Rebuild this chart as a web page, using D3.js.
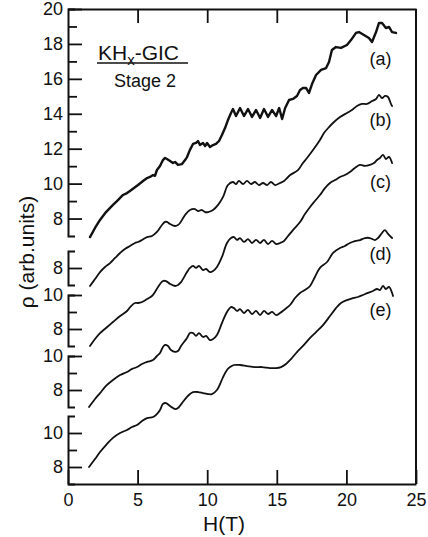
<!DOCTYPE html>
<html><head><meta charset="utf-8">
<script src="https://cdn.jsdelivr.net/npm/d3@7"></script>
<style>
html,body{margin:0;padding:0;background:#fff;}
svg text{font-family:"Liberation Sans",Arial,sans-serif;fill:#111;}
</style></head><body>
<svg id="chart" width="428" height="537"></svg>
<script>
// Magnetoresistance traces of stage-2 KHx-GIC, H in tesla, rho in arbitrary units.
// Each trace is read against its own piece of the broken rho axis.
const seriesNames = ["(a)", "(b)", "(c)", "(d)", "(e)"];

const curveA = [[1.58,6.94],[1.94,7.46],[2.30,7.92],[2.73,8.37],[3.23,8.78],[3.59,9.06],[3.95,9.35],[4.24,9.46],[4.45,9.58],[4.74,9.75],[5.03,9.92],[5.39,10.15],[5.68,10.32],[5.89,10.38],[6.11,10.49],[6.25,10.45],[6.39,10.78],[6.61,11.01],[6.82,11.35],[6.97,11.47],[7.11,11.41],[7.33,11.30],[7.54,11.18],[7.69,11.24],[7.90,11.07],[8.19,11.12],[8.41,11.35],[8.55,11.52],[8.76,11.93],[8.98,12.27],[9.20,12.33],[9.34,12.44],[9.48,12.21],[9.70,12.33],[9.85,12.15],[9.99,12.33],[10.20,12.10],[10.42,12.21],[10.63,12.27],[10.85,12.44],[11.06,12.78],[11.28,13.18],[11.49,13.64],[11.71,14.04],[11.85,14.27],[12.07,13.87],[12.36,14.33],[12.64,13.87],[12.93,14.27],[13.22,13.82],[13.51,14.22],[13.80,13.76],[14.08,14.27],[14.37,13.82],[14.66,14.22],[14.95,13.87],[15.17,14.33],[15.38,13.70],[15.60,14.33],[15.88,14.79],[16.16,14.85],[16.45,15.02],[16.67,15.36],[16.88,15.48],[17.10,15.48],[17.31,15.19],[17.53,15.70],[17.82,16.22],[18.18,16.51],[18.54,16.62],[18.75,16.96],[18.96,17.65],[19.25,17.82],[19.61,17.77],[20.04,17.94],[20.33,18.22],[20.69,18.63],[20.90,18.68],[21.26,18.51],[21.62,18.34],[21.84,18.11],[22.13,18.68],[22.34,19.20],[22.56,19.20],[22.84,18.91],[23.06,18.97],[23.28,18.68],[23.56,18.63]];

const curveB = [[1.58,6.94],[1.94,7.35],[2.30,7.76],[2.66,8.06],[3.02,8.29],[3.38,8.59],[3.74,8.88],[4.09,9.12],[4.45,9.29],[4.81,9.47],[5.03,9.53],[5.32,9.65],[5.68,9.82],[6.03,9.88],[6.39,10.12],[6.75,10.53],[6.97,10.71],[7.11,10.71],[7.33,10.59],[7.69,10.47],[7.90,10.53],[8.05,10.65],[8.41,11.12],[8.76,11.41],[9.12,11.47],[9.34,11.35],[9.63,11.41],[9.85,11.29],[10.06,11.29],[10.42,11.41],[10.78,11.71],[11.14,12.18],[11.49,12.88],[11.85,13.06],[12.07,12.94],[12.28,13.12],[12.57,12.94],[12.86,13.12],[13.15,12.94],[13.43,13.06],[13.72,12.88],[14.01,13.00],[14.30,12.88],[14.58,13.06],[14.87,12.88],[15.23,13.00],[15.52,13.12],[15.96,13.47],[16.52,13.76],[16.88,14.18],[17.17,14.47],[17.60,14.94],[18.10,15.53],[18.39,15.94],[18.75,16.29],[19.11,16.59],[19.54,16.88],[20.04,17.12],[20.40,17.29],[20.76,17.53],[21.12,17.65],[21.48,17.65],[21.84,17.82],[22.13,17.94],[22.34,18.18],[22.56,18.00],[22.77,18.12],[22.99,18.06],[23.20,17.65],[23.28,17.53]];

const curveC = [[1.58,7.00],[1.94,7.41],[2.30,7.76],[2.73,8.06],[3.23,8.41],[3.74,8.76],[4.24,9.06],[4.53,9.35],[4.81,9.53],[5.03,9.53],[5.32,9.59],[5.68,9.76],[6.03,9.94],[6.25,10.18],[6.47,10.47],[6.82,10.82],[7.04,10.82],[7.33,10.65],[7.69,10.53],[7.90,10.59],[8.12,10.76],[8.55,11.35],[8.76,11.59],[8.98,11.71],[9.20,11.59],[9.41,11.71],[9.70,11.47],[9.92,11.53],[10.20,11.35],[10.42,11.41],[10.70,11.65],[11.06,12.24],[11.42,13.06],[11.71,13.35],[11.92,13.41],[12.14,13.24],[12.36,13.35],[12.64,13.12],[12.93,13.29],[13.22,13.06],[13.51,13.24],[13.80,13.06],[14.08,13.24],[14.37,13.00],[14.66,13.18],[14.95,13.00],[15.23,13.06],[15.52,13.18],[15.81,13.47],[16.16,13.82],[16.67,14.29],[17.02,14.76],[17.39,15.18],[17.74,15.53],[18.10,15.88],[18.46,16.29],[18.82,16.59],[19.18,16.76],[19.54,16.94],[19.89,17.06],[20.25,17.24],[20.61,17.47],[20.97,17.65],[21.33,17.59],[21.69,17.65],[21.98,17.76],[22.20,17.94],[22.41,18.06],[22.63,18.24],[22.84,18.00],[23.06,18.12],[23.28,17.76]];

const curveD = [[1.51,7.00],[1.94,7.47],[2.30,7.82],[2.73,8.24],[3.23,8.59],[3.74,8.88],[4.24,9.06],[4.60,9.24],[4.96,9.35],[5.32,9.53],[5.68,9.65],[6.11,9.76],[6.39,10.00],[6.61,10.18],[6.82,10.53],[6.97,10.65],[7.18,10.59],[7.40,10.35],[7.69,10.24],[7.90,10.29],[8.12,10.59],[8.55,11.06],[8.76,11.35],[8.98,11.35],[9.20,11.18],[9.41,11.35],[9.70,11.12],[9.92,11.18],[10.20,10.94],[10.42,11.00],[10.70,11.24],[11.06,11.94],[11.42,12.59],[11.71,12.88],[11.92,12.82],[12.14,12.65],[12.36,12.76],[12.64,12.53],[12.93,12.71],[13.22,12.47],[13.51,12.65],[13.80,12.41],[14.08,12.65],[14.37,12.47],[14.66,12.59],[14.95,12.41],[15.23,12.53],[15.52,12.71],[15.95,13.00],[16.31,13.41],[16.67,13.71],[17.02,13.88],[17.39,14.12],[17.74,14.65],[18.10,15.18],[18.61,15.53],[19.04,16.06],[19.54,16.35],[19.89,16.47],[20.25,16.65],[20.61,16.76],[20.97,16.82],[21.33,16.94],[21.69,16.94],[22.05,16.82],[22.27,16.94],[22.56,17.24],[22.77,17.41],[22.99,17.18],[23.28,16.94]];

const curveE = [[1.51,8.00],[1.94,8.47],[2.30,8.88],[2.73,9.29],[3.23,9.71],[3.74,10.00],[4.24,10.18],[4.60,10.35],[4.96,10.47],[5.32,10.71],[5.68,10.88],[6.11,10.94],[6.39,11.12],[6.61,11.35],[6.82,11.71],[7.04,11.76],[7.33,11.59],[7.69,11.41],[7.90,11.47],[8.19,11.76],[8.55,12.12],[8.76,12.29],[8.98,12.41],[9.34,12.41],[9.70,12.35],[10.06,12.29],[10.34,12.29],[10.70,12.53],[11.14,13.29],[11.42,13.71],[11.64,13.88],[11.92,14.00],[12.36,14.00],[12.86,13.94],[13.43,13.88],[13.94,13.88],[14.51,13.82],[14.95,13.82],[15.30,13.88],[15.66,14.06],[16.02,14.35],[16.45,14.76],[16.88,15.12],[17.39,15.59],[17.82,15.94],[18.32,16.35],[18.82,16.88],[19.25,17.35],[19.61,17.65],[20.04,17.82],[20.47,17.94],[20.83,18.00],[21.19,18.12],[21.55,18.24],[21.91,18.35],[22.20,18.47],[22.41,18.41],[22.63,18.65],[22.84,18.47],[23.06,18.59],[23.28,18.24],[23.35,18.06]];

const xTicks = [0, 5, 10, 15, 20, 25];
// rho span of each piece of the broken axis, top piece first
const axisDomains = [[7, 20], [7, 9], [7, 10], [7, 10], [7, 11]];
const majorTicks = [[8, 10, 12, 14, 16, 18, 20], [8], [8, 10], [8, 10], [8, 10]];
const minorTicks = [[9, 11, 13, 15, 17, 19], [], [9], [9], [9]];

const curves = [curveA, curveB, curveC, curveD, curveE];

const svg = d3.select("#chart");
const plotLeft = 68, plotRight = 416, plotTop = 9, plotBottom = 484;

const x = d3.scaleLinear().domain([0, 25]).range([plotLeft, plotRight]);
const pieceRanges = [[236, plotTop], [285, 251], [346, 295], [407, 356], [plotBottom, 416]];
const yScales = axisDomains.map((d, i) => d3.scaleLinear().domain(d).range(pieceRanges[i]));

function styleAxis(g, w) {
  g.selectAll("path.domain").attr("stroke", "#111").attr("stroke-width", w);
  g.selectAll(".tick line").attr("stroke", "#111").attr("stroke-width", 1.8);
  g.selectAll("text").attr("fill", "#111").attr("font-size", 18)
    .attr("font-family", "'Liberation Sans', Arial, sans-serif");
}

// bottom and top frame with inward ticks
const xb = svg.append("g").attr("transform", `translate(0,${plotBottom})`)
  .call(d3.axisBottom(x).tickValues(xTicks).tickSizeInner(-14).tickSizeOuter(0).tickPadding(9));
styleAxis(xb, 2.2);
const xt = svg.append("g").attr("transform", `translate(0,${plotTop})`)
  .call(d3.axisTop(x).tickValues(xTicks.slice(1, -1)).tickSizeInner(-14).tickSizeOuter(0).tickFormat(""));
styleAxis(xt, 2);
svg.append("line").attr("x1", plotRight).attr("x2", plotRight).attr("y1", plotTop).attr("y2", plotBottom)
  .attr("stroke", "#111").attr("stroke-width", 2);

// broken left axis: one bracket per trace
yScales.forEach((ys, i) => {
  const gMaj = svg.append("g").attr("transform", `translate(${plotLeft},0)`)
    .call(d3.axisLeft(ys).tickValues(majorTicks[i]).tickSizeInner(-14).tickSizeOuter(-7)
      .tickPadding(5).tickFormat(d3.format("d")));
  styleAxis(gMaj, 2);
  if (minorTicks[i].length) {
    const gMin = svg.append("g").attr("transform", `translate(${plotLeft},0)`)
      .call(d3.axisLeft(ys).tickValues(minorTicks[i]).tickSizeInner(-9).tickSizeOuter(0).tickFormat(""));
    gMin.select("path.domain").remove();
    styleAxis(gMin, 2);
  }
});

// traces: the noisy top trace is drawn segment by segment, the others smoothed
curves.forEach((data, i) => {
  const line = d3.line().x(d => x(d[0])).y(d => yScales[i](d[1]))
    .curve(i === 0 ? d3.curveLinear : d3.curveCatmullRom.alpha(0.5));
  svg.append("path").datum(data).attr("d", line)
    .attr("fill", "none").attr("stroke", "#111")
    .attr("stroke-width", i === 0 ? 2.4 : 1.8)
    .attr("stroke-linejoin", "round").attr("stroke-linecap", "round");
});

// trace labels
const labelBaselines = [65, 126, 188, 260, 316];
seriesNames.forEach((s, i) => {
  svg.append("text").attr("x", x(22.45)).attr("y", labelBaselines[i])
    .attr("text-anchor", "middle").attr("font-size", 18).text(s);
});

// sample title
const title = svg.append("text").attr("x", 98).attr("y", 60).attr("font-size", 21);
title.append("tspan").text("KH");
title.append("tspan").attr("font-size", 15).attr("dy", 5).text("x");
title.append("tspan").attr("dy", -5).text("-GIC");
svg.append("line").attr("x1", 97).attr("x2", 188).attr("y1", 63).attr("y2", 63)
  .attr("stroke", "#111").attr("stroke-width", 1.6);
svg.append("text").attr("x", 145).attr("y", 87).attr("text-anchor", "middle")
  .attr("font-size", 18).text("Stage 2");

// axis titles
svg.append("text").attr("x", 224).attr("y", 531).attr("text-anchor", "middle")
  .attr("font-size", 21).text("H(T)");
svg.append("text").attr("transform", "translate(34,252) rotate(-90)")
  .attr("text-anchor", "middle").attr("font-size", 21)
  .text("\u03C1 (arb.units)");
</script>
</body></html>
